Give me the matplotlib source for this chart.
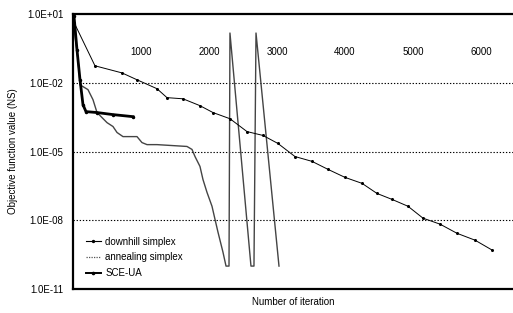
import numpy as np
import matplotlib
matplotlib.use("Agg")
import matplotlib.pyplot as plt
from matplotlib.lines import Line2D

plt.rcParams['font.family'] = ['Liberation Sans', 'DejaVu Sans']

# ---- data (iteration, log10 objective value) ----
downhill_x = [20, 323, 720, 941, 1235, 1382, 1617, 1867, 2058, 2308, 2558, 2794, 3014,
              3264, 3514, 3750, 4000, 4250, 4470, 4691, 4926, 5147, 5397, 5647, 5912, 6162]
downhill_log = [0.6, -1.26, -1.57, -1.87, -2.26, -2.65, -2.70, -3.0, -3.30, -3.57, -4.13,
                -4.30, -4.65, -5.22, -5.43, -5.78, -6.13, -6.39, -6.83, -7.09, -7.39,
                -7.91, -8.17, -8.57, -8.87, -9.30]

anneal_x = [0, 74, 103, 220, 294, 353, 500, 588, 647, 735, 941, 1014, 1088, 1235, 1676,
            1750, 1794, 1867, 1911, 1970, 2044, 2088, 2132, 2205, 2250, 2294, 2308, 2617,
            2661, 2691, 3029]
anneal_log = [0.74, -1.0, -2.09, -2.30, -2.74, -3.30, -3.74, -3.91, -4.17, -4.35, -4.35,
              -4.61, -4.70, -4.70, -4.78, -4.91, -5.22, -5.65, -6.22, -6.78, -7.39, -7.96,
              -8.52, -9.39, -10.0, -10.0, 0.17, -10.0, -10.0, 0.17, -10.0]

sce_x = [15, 59, 103, 147, 191, 353, 588, 882]
sce_log = [0.9, -0.57, -1.87, -2.96, -3.26, -3.30, -3.39, -3.48]

xtick_values = [1000, 2000, 3000, 4000, 5000, 6000]
ytick_values = [1e1, 1e-2, 1e-5, 1e-8, 1e-11]
ytick_labels = ["1.0E+01", "1.0E-02", "1.0E-05", "1.0E-08", "1.0E-11"]
grid_values = [1e-2, 1e-5, 1e-8]

fig = plt.figure(figsize=(5.13, 3.13), dpi=100)
W, H = 513, 313
ax = fig.add_axes([73 / W, 1 - 289 / H, (513 - 73) / W, (289 - 14) / H])
ax.set_yscale('log')
ax.set_ylim(1e-11, 1e1)
ax.set_xlim(0, 6470)

for g in grid_values:
    ax.axhline(g, color='black', lw=0.8, ls=(0, (1.2, 1.6)), zorder=1)

ax.plot(downhill_x, 10.0 ** np.array(downhill_log), color='black', lw=0.7,
        marker='o', ms=1.2, label='downhill simplex', zorder=3)
ax.plot(anneal_x, 10.0 ** np.array(anneal_log), color='#444444', lw=1.0,
        label='annealing simplex', zorder=2)
ax.plot(sce_x, 10.0 ** np.array(sce_log), color='black', lw=2.0,
        marker='o', ms=1.5, label='SCE-UA', zorder=4)

ax.set_yticks(ytick_values)
ax.set_yticklabels(ytick_labels)
ax.minorticks_off()
ax.tick_params(axis='y', length=0, pad=7, labelsize=7)
ax.set_xticks([])
for xv in xtick_values:
    ax.text(xv, 1 - (52 - 14) / (289 - 14), str(xv), transform=ax.get_xaxis_transform(),
            ha='center', va='center', fontsize=7)

for s in ['top', 'bottom', 'left']:
    ax.spines[s].set_linewidth(1.6)
ax.spines['right'].set_visible(False)

ax.set_ylabel('Objective function value (NS)', fontsize=7, labelpad=6.5)
ax.set_xlabel('Number of iteration', fontsize=7, labelpad=6)

handles = [Line2D([], [], color='black', lw=0.8, marker='o', ms=1.4),
           Line2D([], [], color='#555555', lw=0.9, ls=(0, (1, 1))),
           Line2D([], [], color='black', lw=1.4, marker='o', ms=1.6)]
ax.legend(handles, ['downhill simplex', 'annealing simplex', 'SCE-UA'],
          loc='upper left', bbox_to_anchor=(0.02, 0.205), frameon=False, fontsize=7,
          handlelength=1.6, handletextpad=0.4, labelspacing=0.6, borderaxespad=0)

fig.savefig('out.png', dpi=100)
